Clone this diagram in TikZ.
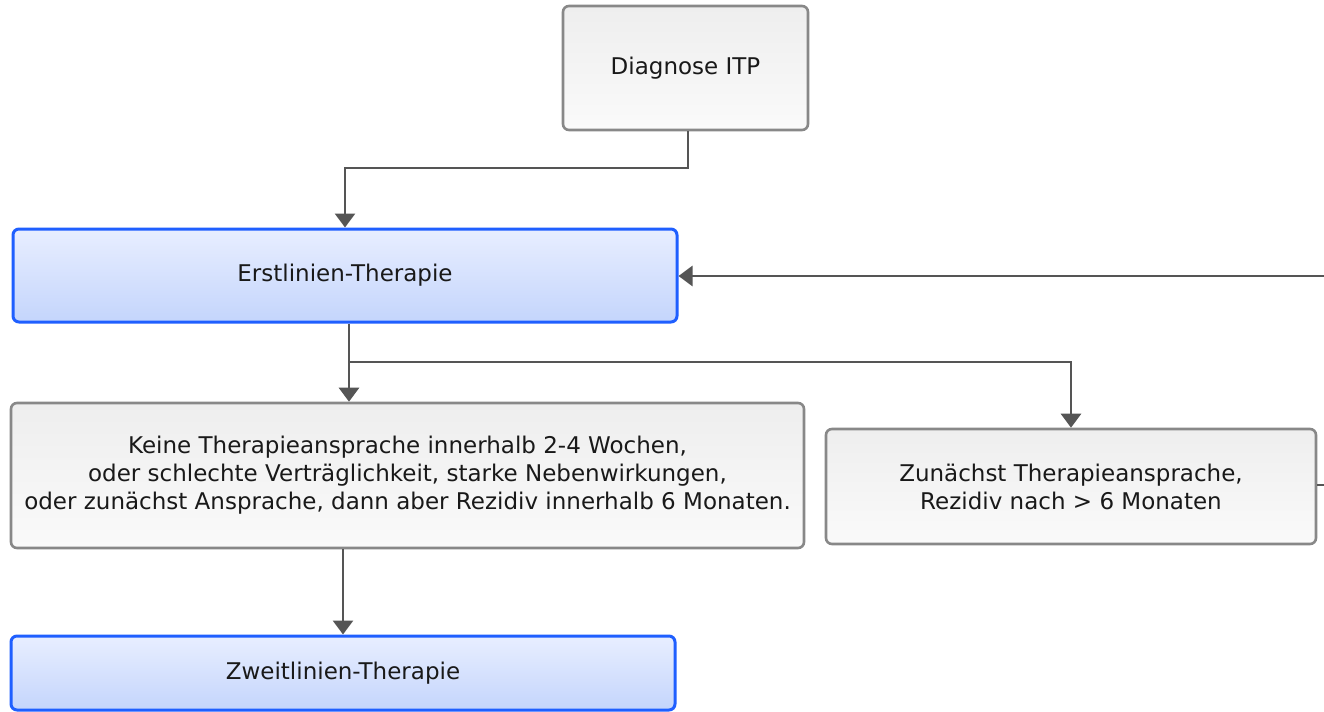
\documentclass[tikz,border=0pt]{standalone}
\usepackage{fontspec}
\setmainfont{DejaVu Sans}
\usetikzlibrary{arrows.meta,positioning}
\definecolor{lineGray}{HTML}{555555}
\definecolor{boxGray}{HTML}{888888}
\definecolor{boxBlue}{HTML}{1F5FFF}
\definecolor{fillBlueA}{HTML}{E8EEFF}
\definecolor{fillBlueB}{HTML}{C4D5FC}
\definecolor{fillGrayA}{HTML}{EEEEEE}
\definecolor{fillGrayB}{HTML}{FAFAFA}
\begin{document}
\begin{tikzpicture}[x=0.5pt, y=-0.5pt, every node/.style={font=\fontsize{11.5}{14}\selectfont, text=black!90}, graybox/.style={draw=boxGray, line width=1.3pt, rounded corners=3pt, align=center, inner sep=0pt, top color=fillGrayA, bottom color=fillGrayB}, bluebox/.style={draw=boxBlue, line width=1.5pt, rounded corners=3pt, align=center, inner sep=0pt, top color=fillBlueA, bottom color=fillBlueB}, arr/.style={-{Triangle[width=10pt,length=7pt]}, draw=lineGray, line width=1.4pt}]
\clip (0,0) rectangle (1324,712);
\fill[white] (0,0) rectangle (1324,712);
\node[graybox, minimum width=122.5pt, minimum height=62pt] (diag) at (685.5,68) {Diagnose ITP};
\node[bluebox, minimum width=332pt, minimum height=46.5pt] (erst) at (345,275.5) {Erstlinien-Therapie};
\node[graybox, minimum width=396.5pt, minimum height=72.5pt] (keine) at (407.5,475.5) {Keine Therapieansprache innerhalb 2-4 Wochen,\\oder schlechte Verträglichkeit, starke Nebenwirkungen,\\oder zunächst Ansprache, dann aber Rezidiv innerhalb 6 Monaten.};
\node[graybox, minimum width=245pt, minimum height=57.5pt] (zun) at (1071,486.5) {Zunächst Therapieansprache,\\Rezidiv nach > 6 Monaten};
\node[bluebox, minimum width=332pt, minimum height=37pt] (zweit) at (343,673) {Zweitlinien-Therapie};
% connectors
\draw[arr] (diag.south -| 688,0) -- (688,168) -| (erst.north -| 345,0);
\draw[arr] (erst.south -| 349,0) -- (keine.north -| 349,0);
\draw[arr] (349,362) -| (zun.north);
\draw[arr] (keine.south -| 343,0) -- (zweit.north -| 343,0);
\draw[arr] (zun.east |- 0,485) -- (1350,485) |- (erst.east |- 0,276);
\end{tikzpicture}
\end{document}
